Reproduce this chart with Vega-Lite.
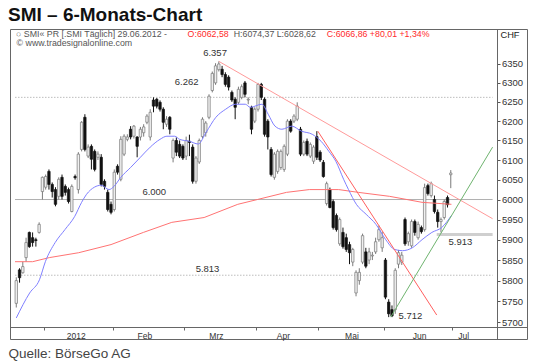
{
"$schema": "https://vega.github.io/schema/vega-lite/v6.json",
"width": 517, "height": 310,
"autosize": {"type": "none"},
"padding": {"left": 10, "top": 29, "right": 8, "bottom": 25},
"background": "white",
"title": {"text": "SMI – 6-Monats-Chart", "anchor": "start", "frame": "group", "fontSize": 19, "fontWeight": "bold", "font": "Liberation Sans", "color": "#111", "offset": 6, "baseline": "alphabetic", "dx": -2, "dy": 17},
"config": {"font": "Liberation Sans", "view": {"stroke": "#666", "strokeWidth": 1}},
"datasets": {
"candles": [
{"x":0,"o":5745,"h":5808,"l":5735,"c":5800},
{"x":1,"o":5826,"h":5830,"l":5795,"c":5807},
{"x":2,"o":5819,"h":5846,"l":5817,"c":5834},
{"x":3,"o":5856,"h":5905,"l":5846,"c":5893},
{"x":4,"o":5918,"h":5920,"l":5880,"c":5883},
{"x":5,"o":5905,"h":5918,"l":5883,"c":5893},
{"x":6,"o":5900,"h":5905,"l":5883,"c":5898},
{"x":7,"o":5918,"h":5943,"l":5915,"c":5938},
{"x":8,"o":6020,"h":6058,"l":6000,"c":6056},
{"x":9,"o":6031,"h":6063,"l":6025,"c":6058},
{"x":10,"o":6071,"h":6076,"l":6025,"c":6038},
{"x":11,"o":6038,"h":6043,"l":6005,"c":6020},
{"x":12,"o":6025,"h":6031,"l":5983,"c":5988},
{"x":13,"o":6008,"h":6056,"l":6000,"c":6051},
{"x":14,"o":6056,"h":6063,"l":6000,"c":6008},
{"x":15,"o":6033,"h":6038,"l":6010,"c":6018},
{"x":16,"o":6025,"h":6030,"l":5990,"c":5995},
{"x":17,"o":5970,"h":6038,"l":5968,"c":6033},
{"x":18,"o":6058,"h":6063,"l":6050,"c":6055},
{"x":19,"o":6025,"h":6120,"l":6015,"c":6115},
{"x":20,"o":6127,"h":6200,"l":6122,"c":6197},
{"x":21,"o":6210,"h":6218,"l":6122,"c":6127},
{"x":22,"o":6110,"h":6140,"l":6105,"c":6133},
{"x":23,"o":6135,"h":6140,"l":6076,"c":6102},
{"x":24,"o":6122,"h":6127,"l":6071,"c":6076},
{"x":25,"o":6107,"h":6122,"l":6100,"c":6115},
{"x":26,"o":6107,"h":6115,"l":6033,"c":6038},
{"x":27,"o":6046,"h":6051,"l":6025,"c":6033},
{"x":28,"o":6018,"h":6025,"l":5970,"c":5975},
{"x":29,"o":5988,"h":5995,"l":5963,"c":5968},
{"x":30,"o":5975,"h":6076,"l":5970,"c":6069},
{"x":31,"o":6084,"h":6089,"l":6063,"c":6069},
{"x":32,"o":6051,"h":6161,"l":6046,"c":6153},
{"x":33,"o":6115,"h":6166,"l":6110,"c":6161},
{"x":34,"o":6153,"h":6166,"l":6148,"c":6159},
{"x":35,"o":6179,"h":6187,"l":6153,"c":6159},
{"x":36,"o":6161,"h":6190,"l":6155,"c":6187},
{"x":37,"o":6159,"h":6161,"l":6107,"c":6135},
{"x":38,"o":6159,"h":6185,"l":6150,"c":6179},
{"x":39,"o":6170,"h":6192,"l":6160,"c":6185},
{"x":40,"o":6197,"h":6218,"l":6192,"c":6213},
{"x":41,"o":6159,"h":6231,"l":6150,"c":6223},
{"x":42,"o":6255,"h":6262,"l":6223,"c":6239},
{"x":43,"o":6257,"h":6260,"l":6233,"c":6239},
{"x":44,"o":6249,"h":6254,"l":6225,"c":6231},
{"x":45,"o":6231,"h":6236,"l":6179,"c":6197},
{"x":46,"o":6192,"h":6213,"l":6185,"c":6205},
{"x":47,"o":6210,"h":6213,"l":6166,"c":6179},
{"x":48,"o":6105,"h":6155,"l":6094,"c":6150},
{"x":49,"o":6150,"h":6158,"l":6110,"c":6120},
{"x":50,"o":6140,"h":6150,"l":6105,"c":6110},
{"x":51,"o":6135,"h":6140,"l":6100,"c":6105},
{"x":52,"o":6110,"h":6160,"l":6100,"c":6150},
{"x":53,"o":6148,"h":6165,"l":6110,"c":6145},
{"x":54,"o":6133,"h":6140,"l":6040,"c":6046},
{"x":55,"o":6046,"h":6110,"l":6040,"c":6105},
{"x":56,"o":6095,"h":6155,"l":6090,"c":6150},
{"x":57,"o":6160,"h":6210,"l":6155,"c":6205},
{"x":58,"o":6170,"h":6200,"l":6160,"c":6195},
{"x":59,"o":6210,"h":6270,"l":6205,"c":6265},
{"x":60,"o":6280,"h":6330,"l":6275,"c":6325},
{"x":61,"o":6300,"h":6352,"l":6295,"c":6345},
{"x":62,"o":6335,"h":6357,"l":6330,"c":6350},
{"x":63,"o":6336,"h":6345,"l":6315,"c":6322},
{"x":64,"o":6322,"h":6328,"l":6290,"c":6296},
{"x":65,"o":6315,"h":6320,"l":6280,"c":6289},
{"x":66,"o":6275,"h":6280,"l":6250,"c":6255},
{"x":67,"o":6257,"h":6262,"l":6205,"c":6236},
{"x":68,"o":6249,"h":6290,"l":6244,"c":6283},
{"x":69,"o":6262,"h":6296,"l":6257,"c":6290},
{"x":70,"o":6300,"h":6305,"l":6262,"c":6270},
{"x":71,"o":6255,"h":6262,"l":6244,"c":6257},
{"x":72,"o":6236,"h":6240,"l":6166,"c":6179},
{"x":73,"o":6200,"h":6236,"l":6195,"c":6231},
{"x":74,"o":6231,"h":6300,"l":6225,"c":6296},
{"x":75,"o":6296,"h":6300,"l":6255,"c":6262},
{"x":76,"o":6257,"h":6262,"l":6160,"c":6166},
{"x":77,"o":6200,"h":6205,"l":6127,"c":6159},
{"x":78,"o":6127,"h":6133,"l":6058,"c":6063},
{"x":79,"o":6056,"h":6120,"l":6050,"c":6115},
{"x":80,"o":6071,"h":6127,"l":6065,"c":6122},
{"x":81,"o":6081,"h":6127,"l":6075,"c":6122},
{"x":82,"o":6076,"h":6140,"l":6070,"c":6135},
{"x":83,"o":6115,"h":6205,"l":6110,"c":6200},
{"x":84,"o":6200,"h":6205,"l":6170,"c":6174},
{"x":85,"o":6200,"h":6218,"l":6195,"c":6213},
{"x":86,"o":6205,"h":6249,"l":6200,"c":6239},
{"x":87,"o":6179,"h":6185,"l":6110,"c":6115},
{"x":88,"o":6115,"h":6150,"l":6110,"c":6145},
{"x":89,"o":6148,"h":6155,"l":6110,"c":6115},
{"x":90,"o":6110,"h":6145,"l":6105,"c":6140},
{"x":91,"o":6097,"h":6138,"l":6090,"c":6133},
{"x":92,"o":6160,"h":6174,"l":6100,"c":6107},
{"x":93,"o":6120,"h":6125,"l":6095,"c":6100},
{"x":94,"o":6094,"h":6100,"l":6055,"c":6058},
{"x":95,"o":5990,"h":6045,"l":5985,"c":6040},
{"x":96,"o":6025,"h":6030,"l":5978,"c":5980},
{"x":97,"o":5995,"h":6000,"l":5925,"c":5930},
{"x":98,"o":5960,"h":5965,"l":5920,"c":5925},
{"x":99,"o":5890,"h":5955,"l":5885,"c":5950},
{"x":100,"o":5918,"h":5930,"l":5878,"c":5883},
{"x":101,"o":5905,"h":5915,"l":5870,"c":5876},
{"x":102,"o":5888,"h":5895,"l":5840,"c":5868},
{"x":103,"o":5845,"h":5880,"l":5835,"c":5876},
{"x":104,"o":5770,"h":5825,"l":5762,"c":5820},
{"x":105,"o":5800,"h":5830,"l":5790,"c":5820},
{"x":106,"o":5845,"h":5915,"l":5840,"c":5910},
{"x":107,"o":5870,"h":5880,"l":5830,"c":5835},
{"x":108,"o":5850,"h":5880,"l":5840,"c":5870},
{"x":109,"o":5860,"h":5870,"l":5850,"c":5862},
{"x":110,"o":5870,"h":5905,"l":5865,"c":5895},
{"x":111,"o":5900,"h":5935,"l":5895,"c":5925},
{"x":112,"o":5880,"h":5920,"l":5870,"c":5905},
{"x":113,"o":5850,"h":5855,"l":5755,"c":5760},
{"x":114,"o":5748,"h":5755,"l":5712,"c":5720},
{"x":115,"o":5730,"h":5740,"l":5712,"c":5715},
{"x":116,"o":5730,"h":5830,"l":5720,"c":5825},
{"x":117,"o":5840,"h":5875,"l":5830,"c":5868},
{"x":118,"o":5845,"h":5870,"l":5838,"c":5862},
{"x":119,"o":5950,"h":5955,"l":5885,"c":5890},
{"x":120,"o":5895,"h":5920,"l":5885,"c":5915},
{"x":121,"o":5885,"h":5950,"l":5880,"c":5945},
{"x":122,"o":5945,"h":5950,"l":5910,"c":5918},
{"x":123,"o":5905,"h":5945,"l":5900,"c":5938},
{"x":124,"o":5930,"h":5935,"l":5915,"c":5920},
{"x":125,"o":5925,"h":6040,"l":5920,"c":6030},
{"x":126,"o":6035,"h":6040,"l":6010,"c":6015},
{"x":127,"o":6010,"h":6045,"l":6005,"c":6040},
{"x":128,"o":6000,"h":6010,"l":5965,"c":5970},
{"x":129,"o":5968,"h":5975,"l":5930,"c":5945},
{"x":130,"o":5945,"h":5955,"l":5918,"c":5950},
{"x":131,"o":5955,"h":6000,"l":5950,"c":5995},
{"x":132,"o":6005,"h":6010,"l":5980,"c":5987},
{"x":133,"o":6062.58,"h":6074.37,"l":6028.62,"c":6066.86}
],
"blue": [
{"x":0,"y":5710},{"x":4.1,"y":5770},{"x":7.1,"y":5802},{"x":8.9,"y":5846},{"x":11.9,"y":5893},{"x":14.9,"y":5925},{"x":17.9,"y":5958},{"x":20,"y":5993},{"x":21.5,"y":6013},{"x":23.9,"y":6031},{"x":26,"y":6036},{"x":28.4,"y":6025},{"x":29.9,"y":6033},{"x":32,"y":6056},{"x":35,"y":6081},{"x":38,"y":6107},{"x":41,"y":6133},{"x":44,"y":6153},{"x":46.1,"y":6161},{"x":48.5,"y":6161},{"x":50,"y":6153},{"x":53,"y":6148},{"x":55.7,"y":6141},{"x":58.1,"y":6171},{"x":61.1,"y":6210},{"x":64.1,"y":6231},{"x":67.1,"y":6244},{"x":70.1,"y":6244},{"x":71.6,"y":6236},{"x":75.2,"y":6244},{"x":77.1,"y":6218},{"x":79.2,"y":6187},{"x":81.3,"y":6179},{"x":84.3,"y":6187},{"x":87.3,"y":6174},{"x":90.6,"y":6166},{"x":93.3,"y":6148},{"x":95.7,"y":6122},{"x":97.8,"y":6097},{"x":100.2,"y":6051},{"x":101.7,"y":6025},{"x":104.1,"y":5988},{"x":107.1,"y":5963},{"x":110.1,"y":5938},{"x":113.1,"y":5900},{"x":115.8,"y":5876},{"x":118.2,"y":5873},{"x":121.2,"y":5880},{"x":124.2,"y":5900},{"x":127.2,"y":5918},{"x":130.2,"y":5930},{"x":133.2,"y":5960}
],
"red": [
{"x":-0.39,"y":5846},{"x":5,"y":5846},{"x":10.1,"y":5856},{"x":19.1,"y":5868},{"x":29,"y":5888},{"x":38.9,"y":5918},{"x":47.6,"y":5943},{"x":57.5,"y":5955},{"x":67.8,"y":5988},{"x":73.8,"y":6000},{"x":82.7,"y":6018},{"x":89.7,"y":6025},{"x":98.7,"y":6025},{"x":104.7,"y":6018},{"x":114.3,"y":6008},{"x":124.2,"y":5993},{"x":133.2,"y":5988}
],
"tlang": [{"x":62,"y":6357},{"x":145.8,"y":5952}],
"tsteil": [{"x":92.3,"y":6174},{"x":128.7,"y":5717}],
"tauf": [{"x":114.6,"y":5712},{"x":145.8,"y":6133}],
"hdot": [{"x":-0.39,"x2":145.8,"y":6262},{"x":-0.39,"x2":145.8,"y":5813}],
"hsolid": [{"x":-0.39,"x2":145.8,"y":6000}],
"hthick": [{"x":128.7,"x2":145.8,"y":5913}],
"labels": [
{"x":57.2,"y":6379,"t":"6.357"},{"x":48.5,"y":6302,"t":"6.262"},{"x":38.6,"y":6020,"t":"6.000"},{"x":54.9,"y":5829,"t":"5.813"},{"x":132.3,"y":5895,"t":"5.913"},{"x":117,"y":5715,"t":"5.712"}
],
"hmeta": [
{"x":-0.05,"y":6430,"t":"○"},
{"x":2.31,"y":6430,"t":"SMI« PR [.SMI  Täglich] 29.06.2012 - "},
{"x":66.55,"y":6430,"t":"H:6074,37 L:6028,62"},
{"x":0.1,"y":6406,"t":"© www.tradesignalonline.com"}
],
"hprice": [
{"x":52.44,"y":6430,"t":"O:6062,58"},
{"x":95.06,"y":6430,"t":"C:6066,86 +80,01 +1,34%"}
],
"hunit": [{"x":148.2,"y":6428,"t":"CHF"}]
},
"encoding": {
 "x": {"field": "x", "type": "quantitative", "scale": {"domain": [-0.39, 154.8], "nice": false, "zero": false},
  "axis": {"orient": "bottom", "offset": -12, "values": [8.6, 18.2, 29.6, 39.2, 51.2, 61.1, 73.4, 81.6, 92.3, 102.6, 112.7, 123.3, 133.5, 136.8],
   "labelExpr": "datum.value == 18.2 ? '2012' : datum.value == 39.2 ? 'Feb' : datum.value == 61.1 ? 'Mrz' : datum.value == 81.6 ? 'Apr' : datum.value == 102.6 ? 'Mai' : datum.value == 123.3 ? 'Jun' : datum.value == 136.8 ? 'Jul' : ''",
   "tickSize": 3, "tickColor": "#666", "tickOpacity": {"condition": {"test": "indexof([18.2, 39.2, 61.1, 81.6, 102.6, 123.3, 136.8], datum.value) >= 0", "value": 0}, "value": 1},
   "domainColor": "#666", "labelFontSize": 8.5, "labelColor": "#333", "labelPadding": 1, "labelOverlap": false, "labelBound": false, "labelFlush": false, "grid": false,
   "title": "Quelle: BörseGo AG", "titleX": -2, "titleY": 30, "titleAnchor": "start", "titleAlign": "left", "titleBaseline": "alphabetic", "titleFontSize": 13.5, "titleFontWeight": "normal", "titleColor": "#444"}},
 "y": {"field": "y", "type": "quantitative", "scale": {"type": "log", "domain": [5660, 6443.6], "nice": false},
  "axis": {"orient": "right", "offset": -30, "values": [5700, 5750, 5800, 5850, 5900, 5950, 6000, 6050, 6100, 6150, 6200, 6250, 6300, 6350], "format": "d", "tickSize": 3, "tickColor": "#555", "domainColor": "#666", "labelFontSize": 9.5, "labelColor": "#333", "labelPadding": 1.5, "grid": false, "title": null, "labelBound": false, "labelOverlap": false}}
},
"layer": [
{"data": {"name": "hdot"}, "mark": {"type": "rule", "color": "#bdbdbd", "strokeDash": [1.5, 1.5], "strokeWidth": 1}, "encoding": {"x2": {"field": "x2"}}},
{"data": {"name": "hsolid"}, "mark": {"type": "rule", "color": "#b0b0b0", "strokeWidth": 1}, "encoding": {"x2": {"field": "x2"}}},
{"data": {"name": "hthick"}, "mark": {"type": "rule", "color": "#cfcfcf", "strokeWidth": 3}, "encoding": {"x2": {"field": "x2"}}},
{"data": {"name": "candles"}, "mark": {"type": "rule", "strokeWidth": 1},
 "encoding": {
  "y": {"field": "l", "type": "quantitative", "scale": {"type": "log", "domain": [5660, 6443.6], "nice": false},
   "axis": {"orient": "right", "offset": -30, "values": [5700, 5750, 5800, 5850, 5900, 5950, 6000, 6050, 6100, 6150, 6200, 6250, 6300, 6350], "format": "d", "tickSize": 3, "tickColor": "#555", "domainColor": "#666", "labelFontSize": 9.5, "labelColor": "#333", "labelPadding": 1.5, "grid": false, "title": null, "labelBound": false, "labelOverlap": false}},
  "y2": {"field": "h"},
  "color": {"condition": {"test": "datum.c >= datum.o", "value": "#7a7a7a"}, "value": "#111"}
 }},
{"data": {"name": "candles"}, "mark": {"type": "bar", "size": 2.4, "strokeWidth": 0.7},
 "encoding": {
  "y": {"field": "o", "type": "quantitative", "scale": {"type": "log", "domain": [5660, 6443.6], "nice": false},
   "axis": {"orient": "right", "offset": -30, "values": [5700, 5750, 5800, 5850, 5900, 5950, 6000, 6050, 6100, 6150, 6200, 6250, 6300, 6350], "format": "d", "tickSize": 3, "tickColor": "#555", "domainColor": "#666", "labelFontSize": 9.5, "labelColor": "#333", "labelPadding": 1.5, "grid": false, "title": null, "labelBound": false, "labelOverlap": false}},
  "y2": {"field": "c"},
  "fill": {"condition": {"test": "datum.c >= datum.o", "value": "#f0f0f0"}, "value": "#111"},
  "stroke": {"condition": {"test": "datum.c >= datum.o", "value": "#777"}, "value": "#111"}
 }},
{"data": {"name": "red"}, "mark": {"type": "line", "color": "#ff7373", "strokeWidth": 1}},
{"data": {"name": "blue"}, "mark": {"type": "line", "color": "#7f7fff", "strokeWidth": 1, "interpolate": "monotone"}},
{"data": {"name": "tlang"}, "mark": {"type": "line", "color": "#ff9a9a", "strokeWidth": 1}},
{"data": {"name": "tsteil"}, "mark": {"type": "line", "color": "#ff5f5f", "strokeWidth": 1}},
{"data": {"name": "tauf"}, "mark": {"type": "line", "color": "#6fb46f", "strokeWidth": 1}},
{"data": {"name": "labels"}, "mark": {"type": "text", "align": "left", "baseline": "middle", "fontSize": 9.5, "color": "#333"}, "encoding": {"text": {"field": "t"}}},
{"data": {"name": "hmeta"}, "mark": {"type": "text", "align": "left", "baseline": "middle", "fontSize": 8.8, "color": "#555"}, "encoding": {"text": {"field": "t"}}},
{"data": {"name": "hprice"}, "mark": {"type": "text", "align": "left", "baseline": "middle", "fontSize": 8.8, "color": "#ff2a2a"}, "encoding": {"text": {"field": "t"}}},
{"data": {"name": "hunit"}, "mark": {"type": "text", "align": "left", "baseline": "middle", "fontSize": 9.3, "color": "#222"}, "encoding": {"text": {"field": "t"}}}
]
}
